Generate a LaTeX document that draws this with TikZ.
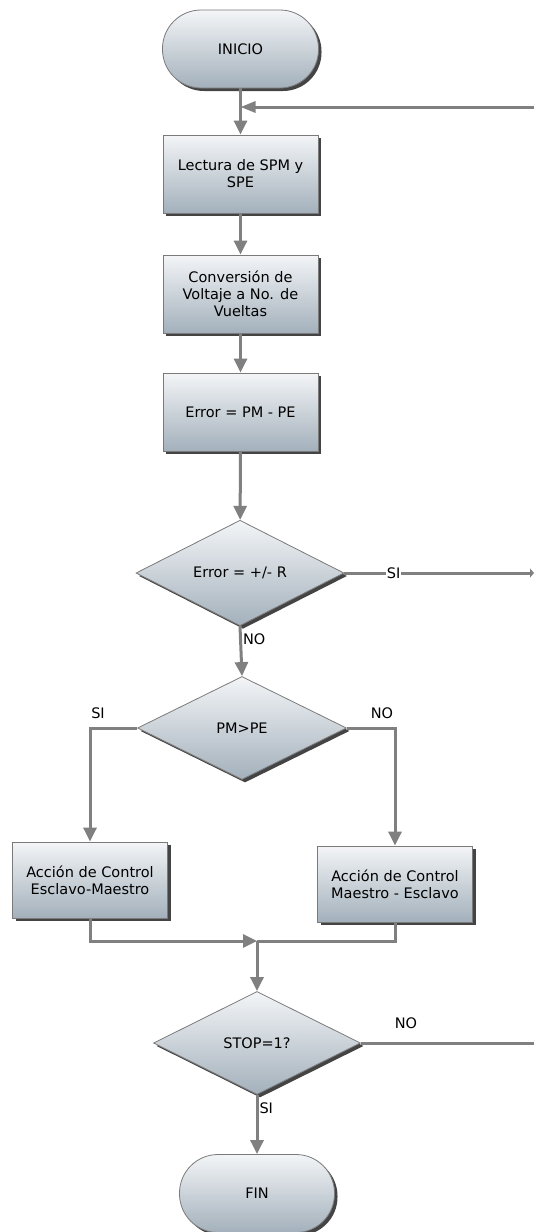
\documentclass[tikz,border=0pt]{standalone}
\usepackage{fontspec}
\setmainfont{DejaVu Sans}
\usetikzlibrary{arrows.meta,positioning,shapes.geometric,shadows}
\definecolor{linegray}{RGB}{128,128,128}
\definecolor{rim}{RGB}{122,122,122}
\definecolor{boxtop}{RGB}{243,245,247}
\definecolor{boxbot}{RGB}{163,176,187}
\definecolor{shade}{RGB}{68,68,68}

\tikzset{
  box/.style={draw=rim,line width=0.8pt,top color=boxtop,bottom color=boxbot,
    font=\fontsize{14.5}{17}\selectfont,align=center,inner sep=0pt,
    drop shadow={shadow xshift=3pt,shadow yshift=-3pt,fill=shade,opacity=1}},
  terminal/.style={box,rectangle,rounded corners=38.5pt,
    minimum width=156pt,minimum height=78pt},
  process/.style={box,rectangle,minimum width=155pt,minimum height=78pt},
  decision/.style={box,diamond,minimum width=208pt,minimum height=103pt},
  line/.style={draw=linegray,line width=3pt},
  conn/.style={line,-{Triangle[width=13pt,length=14pt]}},
  lbl/.style={font=\fontsize{14.5}{17}\selectfont,inner sep=1pt}
}

\begin{document}
\begin{tikzpicture}[x=1pt,y=1pt]
  \useasboundingbox (0,0) rectangle (534,-1232);

  % main column
  \node[terminal] (inicio) at (240.5,-49) {INICIO};
  \node[process] (lectura) at (240.5,-174) {Lectura de SPM y\\SPE};
  \node[process] (conversion) at (240.5,-294)
    {Conversión de\\Voltaje a No. de\\Vueltas};
  \node[process] (error) at (240.5,-412) {Error = PM - PE};
  \node[decision] (cmp) at (240,-573) {Error = +/- R};
  \node[decision,minimum width=209pt] (dir) at (242,-728) {PM>PE};

  % branches
  \node[process,minimum height=76pt] (accem) at (90,-880)
    {Acción de Control\\Esclavo-Maestro};
  \node[process,minimum height=76pt] (acmae) at (395,-884)
    {Acción de Control\\Maestro - Esclavo};

  \node[decision,minimum width=207pt] (stop) at (257,-1043) {STOP=1?};
  \node[terminal,minimum width=155pt] (fin) at (257,-1193.5) {FIN};

  % free ends at the right edge
  \coordinate (loopin) at (534,-107);
  \coordinate (siout) at (534,-573);
  \coordinate (noout) at (534,-1043);
  \coordinate (merge) at (257,-941);

  % connectors
  \draw[conn] (inicio) -- (lectura);
  \draw[conn,-{Triangle[width=11pt,length=15pt]}] (loopin) -- (loopin -| inicio.south);
  \draw[conn] (lectura) -- (conversion);
  \draw[conn] (conversion) -- (error);
  \draw[conn] (error) -- (cmp);
  \draw[line,-{Triangle[width=9pt,length=4pt]}] (cmp.east) -- (siout)
    node[lbl,fill=white,pos=0.26] (si1) {SI};
  \draw[conn] (cmp.south) -- (dir.north)
    node[lbl,anchor=west,pos=0.27] (no1) {NO};
  \draw[conn] (dir.west) -| (accem.north);
  \draw[conn] (dir.east) -| (acmae.north);
  \node[lbl] (si2) at (98,-713) {SI};
  \node[lbl] (no2) at (382,-713) {NO};
  \draw[line] (acmae.south) |- (merge);
  \draw[conn] (accem.south) |- (merge);
  \draw[conn] (merge) -- (stop.north);
  \draw[line] (stop.east) -- (noout);
  \node[lbl] (no3) at (406,-1023) {NO};
  \draw[conn] (stop.south) -- (fin.north)
    node[lbl,anchor=west,pos=0.22] (si3) {SI};
\end{tikzpicture}
\end{document}
